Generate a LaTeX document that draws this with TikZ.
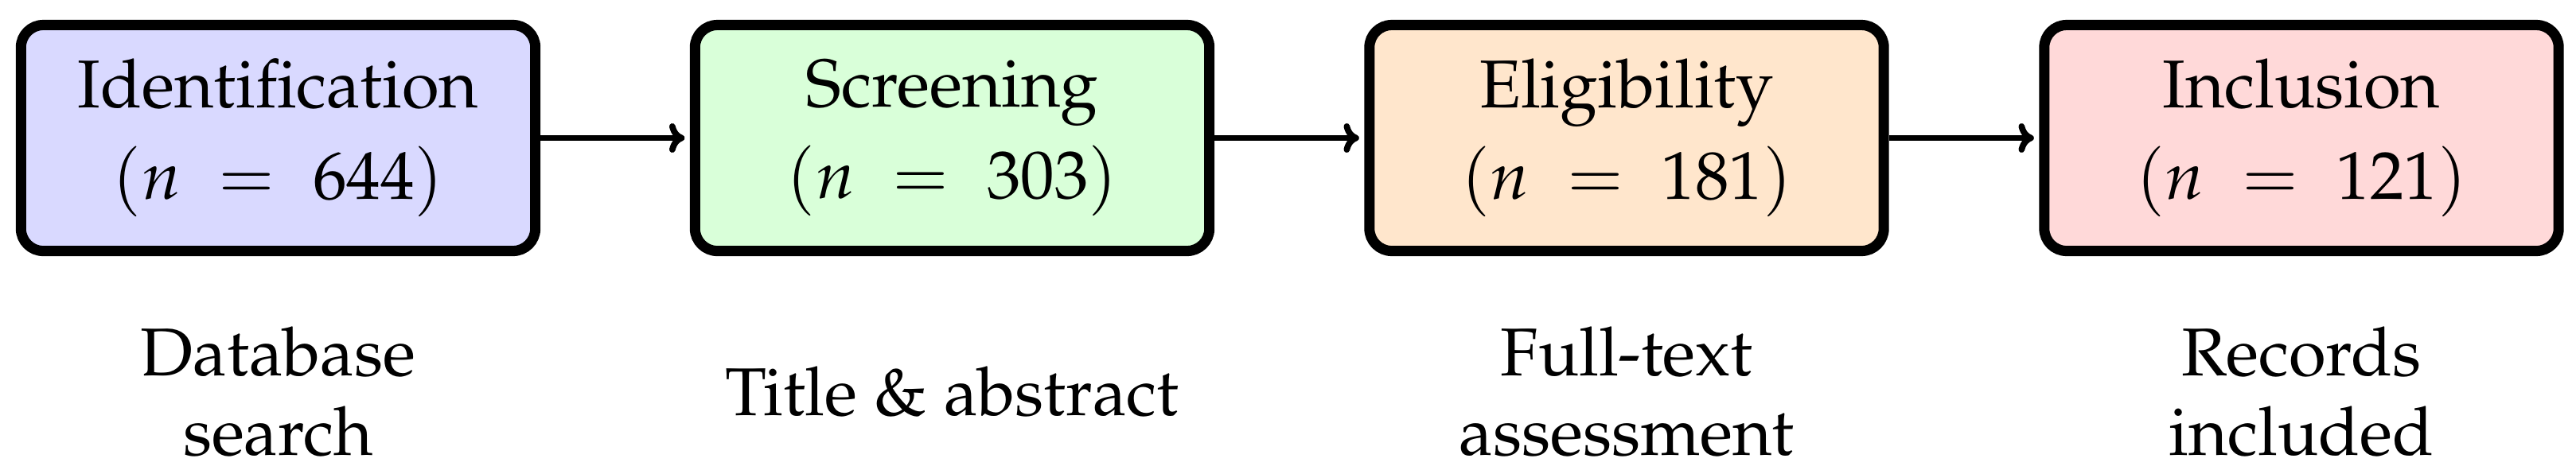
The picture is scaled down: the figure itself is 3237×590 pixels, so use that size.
\documentclass[tikz,border=0pt]{standalone}
\usepackage[T1]{fontenc}
\usepackage{mathpazo}
\usetikzlibrary{arrows.meta}
\definecolor{cident}{RGB}{217,217,255}
\definecolor{cscreen}{RGB}{217,255,217}
\definecolor{celig}{RGB}{255,230,204}
\definecolor{cincl}{RGB}{255,217,217}
\tikzset{
  stagebox/.style={draw=black, line width=3.7pt, rounded corners=8pt,
    minimum width=6.46cm, minimum height=2.84cm, inner sep=0pt, align=center,
    font=\fontsize{24.2}{28.45}\selectfont},
  stagelabel/.style={anchor=north, inner sep=0pt, align=center,
    font=\fontsize{24.2}{28.45}\selectfont},
  flow/.style={line width=2.2pt, -{To[length=5.5pt,width=10.5pt]}, shorten >=1.85pt}
}
\begin{document}
\begin{tikzpicture}[x=0.01cm,y=-0.01cm]
\useasboundingbox (0,0) rectangle (3237,590);
\node[stagebox, fill=cident]  (b1) at (349.5,173.5) {Identification\\[4.27pt]$(n\;=\;644)$};
\node[stagebox, fill=cscreen] (b2) at (1196.5,173.5) {Screening\\[4.27pt]$(n\;=\;303)$};
\node[stagebox, fill=celig]   (b3) at (2044,173.5) {Eligibility\\[4.27pt]$(n\;=\;181)$};
\node[stagebox, fill=cincl]   (b4) at (2892,173.5) {Inclusion\\[4.27pt]$(n\;=\;121)$};
\draw[flow] (b1.east) -- (b2.west);
\draw[flow] (b2.east) -- (b3.west);
\draw[flow] (b3.east) -- (b4.west);
\node[stagelabel] (l1) at (349.5,410) {Database\\search};
\node[stagelabel] (l2) at (1196.5,460) {Title \& abstract};
\node[stagelabel] (l3) at (2044,410) {Full-text\\assessment};
\node[stagelabel] (l4) at (2892,410) {Records\\included};
\end{tikzpicture}
\end{document}
